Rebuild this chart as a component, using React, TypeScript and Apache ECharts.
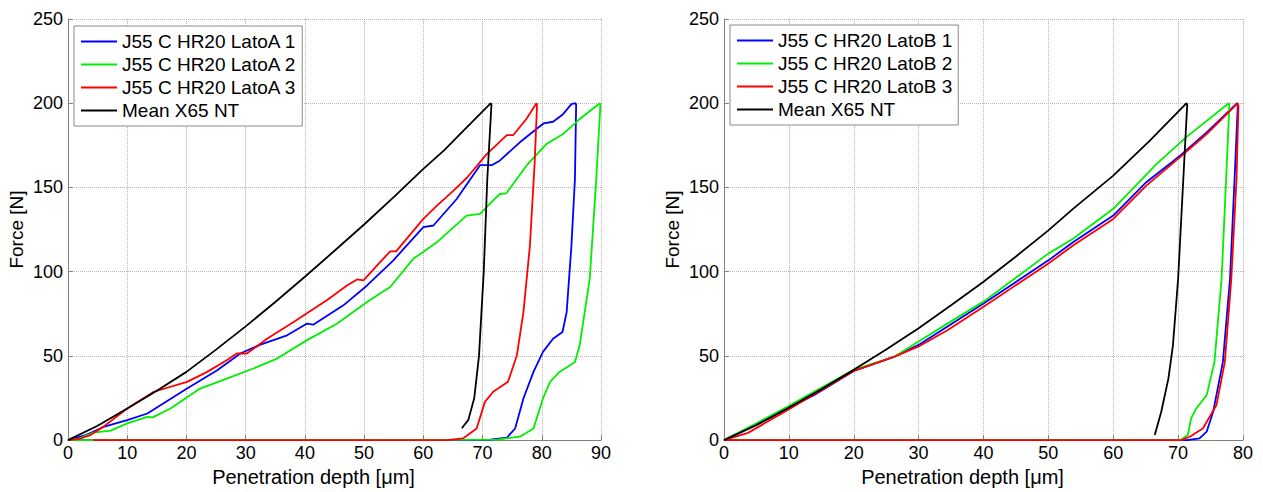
import React, { useEffect, useRef } from "react";
import * as echarts from "echarts";

// ---------- Left panel (Lato A) : [depth µm, force N] ----------
const leftBlue: number[][] = [
  [0, 0], [3, 3], [6, 7.8], [10, 11.8], [13.4, 15.8], [20.1, 30.6], [25.2, 41.5], [29.1, 51.4],
  [32.5, 56.7], [37, 62.2], [40.3, 69.1], [41.4, 68.5], [46.5, 80], [50.5, 91.8], [54.9, 106.6],
  [60, 126.4], [61.7, 127.4], [65.6, 143], [69.6, 163.3], [71.6, 163.3], [72.9, 165.9],
  [76.3, 176.8], [79.1, 184.7], [80.3, 188], [81.9, 189], [83.6, 193.5], [85, 199.5], [85.7, 200],
  [85.8, 199], [85.6, 155], [85, 115], [84.2, 76], [83.5, 64.2], [81.9, 60.2], [80.2, 52.4],
  [78.6, 40.5], [76.9, 24.7], [75.5, 6.9], [74.1, 1.4], [71.3, 0.2], [0, 0],
];
const leftGreen: number[][] = [
  [0, 0], [2, 1], [4.3, 4.5], [7.2, 5.6], [10, 9.9], [13.4, 13.8], [14.3, 13.5], [17.3, 18.8],
  [22.3, 30.6], [26.8, 36.5], [31.3, 42.5], [35.3, 48.4], [40.3, 59.2], [45.4, 69.1], [50.5, 82],
  [52.7, 87], [54.4, 90.9], [58.3, 107.6], [62.3, 117.5], [67.3, 133.3], [69.6, 134.3],
  [71.2, 140.2], [72.9, 146.1], [74, 146.5], [77.4, 162.9], [80.8, 175.8], [83.6, 181.7],
  [86.4, 190.6], [89.8, 200], [89.9, 199], [89.2, 155], [88.1, 95.8], [86.4, 56.3], [85.6, 46.4],
  [83, 40.5], [81.4, 34.6], [80.2, 24.7], [78.6, 6.9], [76.3, 2], [72.4, 0.3], [0, 0],
];
const leftRed: number[][] = [
  [0, 0], [2, 0.8], [3.8, 3], [6, 8], [10, 18.8], [14.5, 28.7], [20.1, 34.6], [23.5, 40.5],
  [26.8, 47.4], [28.5, 51.4], [30.2, 51.4], [33.6, 60.2], [38.1, 70.1], [43.7, 83], [47.1, 91.8],
  [48.8, 95.4], [49.9, 94.8], [52.7, 105.7], [54.4, 112], [55.4, 112], [60, 131.3], [62.3, 139.2],
  [65.1, 148.1], [67.4, 155.9], [70.7, 169.8], [74.1, 181.1], [75.2, 181.1], [77.4, 190.6],
  [79.1, 200], [79.2, 199], [78.8, 164.9], [78, 115.5], [76.9, 76], [75.8, 50.4], [74.3, 34.6],
  [71.8, 28.7], [70.4, 22.7], [69, 6.9], [66.7, 1], [63.9, 0], [4.3, 0],
];
const leftBlack: number[][] = [
  [0, 0], [5, 8.5], [10, 18.8], [15, 29.3], [20, 40.5], [25, 53.7], [30, 67.5], [35, 82],
  [40, 97], [45, 112.4], [50, 128], [55, 144.3], [60, 161], [63.5, 172], [66.7, 183.5],
  [71.4, 200], [71.5, 199], [70.8, 155], [70.2, 100], [69.4, 50], [68.6, 25], [67.6, 12],
  [66.5, 7],
];

// ---------- Right panel (Lato B) ----------
const rightBlue: number[][] = [
  [0, 0], [5, 9], [9.9, 19.1], [14, 27], [20, 41.1], [26.3, 49.6], [30, 56.5], [40, 81.1],
  [50, 106.7], [53.8, 117.5], [60, 133.3], [65.1, 153.1], [70.3, 168.8], [74.4, 182.7],
  [79.1, 200], [79.2, 199], [78.7, 155], [78, 95.8], [76.9, 46.4], [75.4, 16.8], [74.4, 5],
  [73.3, 1], [71.4, 0], [0, 0],
];
const rightGreen: number[][] = [
  [0, 0], [5, 10], [9.9, 20.1], [14, 29], [20, 41.7], [23.2, 45.7], [26.3, 49.6], [30, 58.5],
  [34.5, 69.3], [40, 82.2], [50, 110.7], [53.8, 119.5], [60, 137.3], [66.7, 164], [71.3, 180],
  [77.8, 200], [77.9, 199], [77.4, 155], [76.7, 95.8], [75.6, 46.4], [74.4, 26.7], [72.8, 18.8],
  [72, 12.9], [71.5, 3], [70.5, 0.3], [69, 0], [0, 0],
];
const rightRed: number[][] = [
  [0, 0], [3.7, 4.3], [9.9, 18.1], [20, 41.1], [26.3, 49.6], [30, 55.6], [34.5, 65.4],
  [40, 79.2], [50, 104.8], [53.8, 115.5], [60, 131.3], [65.1, 151.1], [70.3, 168], [74.4, 181.7],
  [79.2, 200], [79.3, 198], [79, 155], [78.2, 95.8], [77.2, 46.4], [75.9, 20.7], [73.8, 6.9],
  [71.8, 2], [70.5, 0], [0, 0],
];
const rightBlack: number[][] = [
  [0, 0], [5, 9], [9.9, 19.1], [15, 30.2], [20, 41.7], [25, 53.8], [30, 66.4], [35, 80],
  [40, 94], [45, 109], [50, 124.5], [53.8, 137.3], [60, 157], [65.6, 177.7], [71.3, 200],
  [71.4, 199], [70.8, 155], [70, 95.8], [69.2, 56.3], [68.5, 36.5], [67.4, 16.8], [66.4, 3],
];

const leftNames = ["J55 C HR20 LatoA 1", "J55 C HR20 LatoA 2", "J55 C HR20 LatoA 3", "Mean X65 NT"];
const rightNames = ["J55 C HR20 LatoB 1", "J55 C HR20 LatoB 2", "J55 C HR20 LatoB 3", "Mean X65 NT"];
const colors = ["#0000ff", "#00ee00", "#ff0000", "#000000"];
const xMaxes = [90, 80];
const yTicks = [0, 250, 50];
const xLabel = "Penetration depth [\u03bcm]";
const yLabel = "Force [N]";

const FONT = "'Liberation Sans', Arial, sans-serif";

export default function App() {
  const ref = useRef<HTMLDivElement>(null);
  useEffect(() => {
    if (!ref.current) return;
    const chart = echarts.init(ref.current, undefined, { renderer: "svg" });
    const axisCommon = {
      axisLine: { show: true, onZero: false, lineStyle: { color: "#808080", width: 1 } },
      axisTick: { show: true, inside: true, length: 5, lineStyle: { color: "#808080" } },
      splitLine: { show: true, lineStyle: { type: "dotted", color: "#b4b4b4", width: 1 } },
      nameLocation: "middle",
    };
    const xAxes = xMaxes.map((mx, i) => ({
      ...axisCommon,
      type: "value",
      gridIndex: i,
      min: 0,
      max: mx,
      interval: 10,
      name: xLabel,
      nameGap: 25,
      nameTextStyle: { fontSize: 20, color: "#000", fontFamily: FONT, padding: [0, 42, 0, 0] },
      axisLabel: { fontSize: 18, color: "#000", fontFamily: FONT, margin: 4 },
    }));
    const yAxes = [0, 1].map((i) => ({
      ...axisCommon,
      type: "value",
      gridIndex: i,
      min: yTicks[0],
      max: yTicks[1],
      interval: yTicks[2],
      name: yLabel,
      nameGap: 42,
      nameRotate: 90,
      nameTextStyle: { fontSize: 19, color: "#000", fontFamily: FONT },
      axisLabel: { fontSize: 18, color: "#000", fontFamily: FONT, margin: 5 },
    }));
    const leftData = [leftBlue, leftGreen, leftRed, leftBlack];
    const rightData = [rightBlue, rightGreen, rightRed, rightBlack];
    const mk = (name: string, data: number[][], idx: number, c: string) => ({
      type: "line",
      name,
      data,
      xAxisIndex: idx,
      yAxisIndex: idx,
      showSymbol: false,
      symbol: "none",
      color: c,
      lineStyle: { color: c, width: 1.8 },
    });
    const series = [
      ...leftData.map((d, i) => mk(leftNames[i], d, 0, colors[i])),
      ...rightData.map((d, i) => mk(rightNames[i], d, 1, colors[i])),
    ];
    const legendCommon = {
      orient: "vertical",
      icon: "rect",
      itemWidth: 36,
      itemHeight: 2,
      itemGap: 4,
      padding: [6, 6, 6, 7],
      borderColor: "#8a8a8a",
      borderWidth: 1,
      backgroundColor: "#ffffff",
      selectedMode: false,
      textStyle: { fontSize: 19, color: "#000", fontFamily: FONT },
    };
    chart.setOption({
      animation: false,
      backgroundColor: "#ffffff",
      grid: [
        { left: 68, top: 19, width: 533, height: 423 },
        { left: 724, top: 19, width: 519, height: 423 },
      ],
      xAxis: xAxes,
      yAxis: yAxes,
      legend: [
        { ...legendCommon, data: leftNames, left: 74, top: 26 },
        { ...legendCommon, data: rightNames, left: 730, top: 25 },
      ],
      series,
    } as any);
    return () => chart.dispose();
  }, []);
  return (
    <div
      ref={ref}
      style={{ position: "fixed", left: 0, top: 0, width: 1263, height: 492, background: "#fff" }}
    />
  );
}
